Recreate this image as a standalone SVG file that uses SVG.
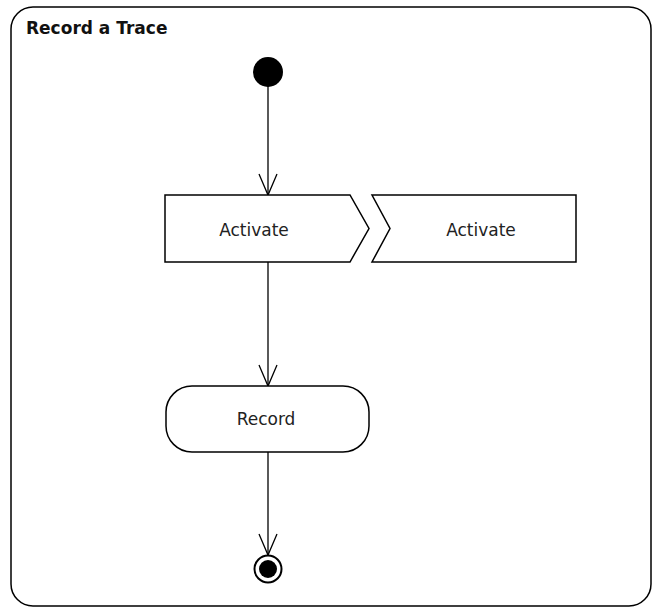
<svg xmlns="http://www.w3.org/2000/svg" width="653" height="608" viewBox="0 0 653 608">
  <defs>
    <marker id="open" viewBox="0 0 24 20" refX="22" refY="10" markerWidth="24" markerHeight="20" markerUnits="userSpaceOnUse" orient="auto">
      <path d="M1,1 L22,10 L1,19" fill="none" stroke="#000" stroke-width="1.3"/>
    </marker>
  </defs>
  <style>
    .shape { fill: #fff; stroke: #000; stroke-width: 1.5; }
    .edge { fill: none; stroke: #000; stroke-width: 1.3; }
    .label { font-family: "DejaVu Sans", "Liberation Sans", sans-serif; font-size: 17px; fill: #222; text-anchor: middle; }
    .title { font-family: "DejaVu Sans", "Liberation Sans", sans-serif; font-size: 17px; font-weight: bold; fill: #111; }
  </style>
  <rect width="653" height="608" fill="#fff"/>

  <g id="frame">
    <rect x="11" y="7" width="640" height="599" rx="22" ry="22" fill="none" stroke="#000" stroke-width="1.5"/>
    <text class="title" x="26" y="34">Record a Trace</text>
  </g>

  <g id="connectors">
    <line class="edge" x1="268" y1="86" x2="268" y2="195" marker-end="url(#open)"/>
    <line class="edge" x1="268" y1="262" x2="268" y2="386" marker-end="url(#open)"/>
    <line class="edge" x1="268" y1="452" x2="268" y2="555" marker-end="url(#open)"/>
  </g>

  <g id="start">
    <circle cx="268" cy="72" r="15" fill="#000"/>
  </g>

  <g id="send-activate">
    <polygon class="shape" points="165,195 350,195 369,228.5 350,262 165,262"/>
    <text class="label" x="254" y="236">Activate</text>
  </g>

  <g id="accept-activate">
    <polygon class="shape" points="372,195 576,195 576,262 372,262 390,228.5"/>
    <text class="label" x="481" y="236">Activate</text>
  </g>

  <g id="record">
    <rect class="shape" x="166" y="386" width="203" height="66" rx="26" ry="26"/>
    <text class="label" x="266" y="425">Record</text>
  </g>

  <g id="end">
    <circle cx="268" cy="569" r="13.5" fill="#fff" stroke="#000" stroke-width="2"/>
    <circle cx="268" cy="569" r="9" fill="#000"/>
  </g>
</svg>
